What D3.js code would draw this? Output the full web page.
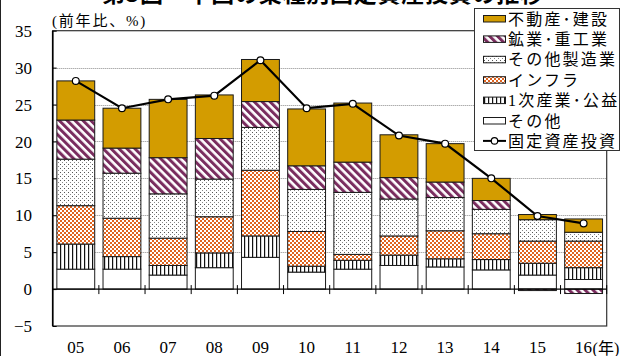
<!DOCTYPE html>
<html>
<head>
<meta charset="utf-8">
<script src="https://cdn.jsdelivr.net/npm/d3@7"></script>
<style>
  html, body { margin: 0; padding: 0; background: #fff; }
  svg { display: block; }
  .num { font-family: "Liberation Serif", "Times New Roman", serif; }
  .jp  { font-family: "Liberation Serif", "Noto Sans CJK JP", serif; }
</style>
</head>
<body>
<svg id="chart" width="631" height="356"></svg>
<script>
// Fixed-asset investment growth by sector (contribution, % y/y)
const years      = ["05","06","07","08","09","10","11","12","13","14","15","16"];
const other      = [2.7, 2.7, 1.9, 2.9, 4.3, 2.3, 2.7, 3.2, 3.0, 2.6, 1.9, 1.3];
const primary    = [3.4, 1.7, 1.3, 2.0, 2.9, 0.8, 1.2, 1.4, 1.1, 1.4, 1.6, 1.6];
const infra      = [5.2, 5.2, 3.7, 4.9, 8.9, 4.7, 0.8, 2.6, 3.8, 3.5, 3.0, 3.6];
const otherMfg   = [6.3, 6.1, 6.0, 5.1, 5.8, 5.7, 8.4, 5.0, 4.5, 3.3, 2.9, 1.2];
const mining     = [5.3, 3.4, 4.9, 5.5, 3.5, 3.2, 4.1, 2.9, 2.1, 1.2, -0.2, -0.6];
const realEstate = [5.3, 5.4, 7.9, 5.9, 5.7, 7.7, 8.0, 5.8, 5.2, 3.0, 0.7, 1.8];
const totalFAI   = [28.2, 24.5, 25.7, 26.2, 31.0, 24.5, 25.1, 20.8, 19.7, 15.0, 9.9, 8.9];
const yTicks     = [-5, 0, 5, 10, 15, 20, 25, 30, 35];

const seriesKeys   = ["other", "primary", "infra", "otherMfg", "mining", "realEstate"];
const seriesLabels = {
  realEstate: "不動産･建設",
  mining:     "鉱業･重工業",
  otherMfg:   "その他製造業",
  infra:      "インフラ",
  primary:    "1次産業･公益",
  other:      "その他"
};
const lineLabel = "固定資産投資";
const titleText = "第3図　中国の業種別固定資産投資の推移";
const yUnitLabel = "(前年比、%)";
const xUnitLabel = "(年)";

const rows = years.map((y, i) => ({
  year: y, other: other[i], primary: primary[i], infra: infra[i],
  otherMfg: otherMfg[i], mining: mining[i], realEstate: realEstate[i]
}));

const svg = d3.select("#chart");
const plot = { left: 52.7, right: 606.7, top: 30.7, bottom: 326 };

const x = d3.scaleBand().domain(years)
  .range([plot.left, plot.right]).paddingInner(0.18).paddingOuter(0.09);
const y = d3.scaleLinear().domain([-5, 35]).range([plot.bottom, plot.top]);

// ---- fill patterns ----
const defs = svg.append("defs");
const GOLD = "#D39C00", PURPLE = "#7A2D5F", ORANGE = "#E0631E";

const pStripe = defs.append("pattern").attr("id", "pat-mining")
  .attr("patternUnits", "userSpaceOnUse").attr("width", 5.6).attr("height", 5.6)
  .attr("patternTransform", "rotate(-45)");
pStripe.append("rect").attr("width", 5.6).attr("height", 5.6).attr("fill", "#fff");
pStripe.append("rect").attr("width", 3).attr("height", 5.6).attr("fill", PURPLE);

const pDots = defs.append("pattern").attr("id", "pat-otherMfg")
  .attr("patternUnits", "userSpaceOnUse").attr("width", 4).attr("height", 4);
pDots.append("rect").attr("width", 4).attr("height", 4).attr("fill", "#fff");
pDots.append("rect").attr("x", 0).attr("y", 0).attr("width", 1).attr("height", 1).attr("fill", "#555");
pDots.append("rect").attr("x", 2).attr("y", 2).attr("width", 1).attr("height", 1).attr("fill", "#888");

const pCheck = defs.append("pattern").attr("id", "pat-infra")
  .attr("patternUnits", "userSpaceOnUse").attr("width", 4).attr("height", 4);
pCheck.append("rect").attr("width", 4).attr("height", 4).attr("fill", "#fff");
pCheck.append("rect").attr("x", 0).attr("y", 0).attr("width", 2).attr("height", 2).attr("fill", ORANGE);
pCheck.append("rect").attr("x", 2).attr("y", 2).attr("width", 2).attr("height", 2).attr("fill", ORANGE);

const pVert = defs.append("pattern").attr("id", "pat-primary")
  .attr("patternUnits", "userSpaceOnUse").attr("width", 4).attr("height", 4);
pVert.append("rect").attr("width", 4).attr("height", 4).attr("fill", "#fff");
pVert.append("rect").attr("x", 0).attr("width", 1.2).attr("height", 4).attr("fill", "#111");

const fills = {
  realEstate: GOLD,
  mining: "url(#pat-mining)",
  otherMfg: "url(#pat-otherMfg)",
  infra: "url(#pat-infra)",
  primary: "url(#pat-primary)",
  other: "#fff"
};

// ---- outer figure edge ----
svg.append("line").attr("x1", 0.5).attr("x2", 0.5).attr("y1", 0).attr("y2", 356)
  .attr("stroke", "#222").attr("stroke-width", 1);

// ---- title along the top edge of the figure ----
svg.append("text").attr("class", "jp")
  .attr("x", 102).attr("y", 1.5)
  .attr("textLength", 441).attr("lengthAdjust", "spacing")
  .attr("font-size", 23).attr("font-weight", "bold")
  .style("font-family", "'Noto Sans CJK JP', sans-serif")
  .text(titleText);

// ---- gridlines ----
svg.append("g").selectAll("line")
  .data(yTicks.filter(t => t > 0 && t < 35))
  .join("line")
  .attr("x1", plot.left).attr("x2", plot.right)
  .attr("y1", d => Math.round(y(d)) + 0.5).attr("y2", d => Math.round(y(d)) + 0.5)
  .attr("stroke", "#8a8a8a").attr("stroke-width", 1).attr("stroke-dasharray", "1,1");

// ---- stacked bars ----
const stacked = d3.stack().keys(seriesKeys).offset(d3.stackOffsetDiverging)(rows);
svg.append("g").selectAll("g")
  .data(stacked)
  .join("g")
  .attr("fill", d => fills[d.key])
  .selectAll("rect")
  .data(d => d)
  .join("rect")
  .attr("x", d => x(d.data.year))
  .attr("width", x.bandwidth())
  .attr("y", d => y(Math.max(d[0], d[1])))
  .attr("height", d => Math.abs(y(d[0]) - y(d[1])))
  .attr("stroke", "#1a1a1a").attr("stroke-width", 1);

// ---- plot frame ----
svg.append("rect")
  .attr("x", plot.left).attr("y", plot.top)
  .attr("width", plot.right - plot.left).attr("height", plot.bottom - plot.top)
  .attr("fill", "none").attr("stroke", "#333").attr("stroke-width", 1.2);
svg.append("line")
  .attr("x1", plot.left).attr("x2", plot.left).attr("y1", plot.top).attr("y2", plot.bottom)
  .attr("stroke", "#000").attr("stroke-width", 1.6);

// zero line with category separators
svg.append("line")
  .attr("x1", plot.left).attr("x2", plot.right).attr("y1", y(0)).attr("y2", y(0))
  .attr("stroke", "#000").attr("stroke-width", 1.4);
const step = x.step();
svg.append("g").selectAll("line")
  .data(d3.range(1, years.length + 1))
  .join("line")
  .attr("x1", i => plot.left + i * step).attr("x2", i => plot.left + i * step)
  .attr("y1", y(0) - 4).attr("y2", y(0) + 5)
  .attr("stroke", "#000").attr("stroke-width", 1);

// ---- y axis labels and inner ticks ----
const yAxis = d3.axisLeft(y).tickValues(yTicks).tickSize(-4).tickPadding(20)
  .tickFormat(d3.format("d"));
const yG = svg.append("g").attr("transform", `translate(${plot.left},0)`).call(yAxis);
yG.select(".domain").remove();
yG.selectAll(".tick line").attr("stroke", "#000");
yG.selectAll(".tick text")
  .attr("class", "num").attr("font-size", 17).attr("fill", "#000")
  .attr("x", 32 - plot.left).attr("dy", "0.33em");

// ---- x axis labels ----
const xAxis = d3.axisBottom(x).tickSize(0).tickPadding(0);
const xG = svg.append("g").attr("transform", "translate(0,341)").call(xAxis);
xG.select(".domain").remove();
xG.selectAll(".tick text")
  .attr("class", "num").attr("font-size", 17).attr("fill", "#000").attr("dy", "0.71em");
const lastYear = years[years.length - 1];
svg.append("text").attr("class", "jp")
  .attr("x", x(lastYear) + x.bandwidth() / 2 + 9).attr("y", 354)
  .attr("font-size", 16).text(xUnitLabel);

// unit label
svg.append("text").attr("class", "jp")
  .attr("x", 52).attr("y", 25.5)
  .attr("font-size", 15).attr("letter-spacing", "1.8px")
  .text(yUnitLabel);

// ---- total fixed-asset investment line ----
const cx = d => x(d) + x.bandwidth() / 2;
const linePts = years.map((yr, i) => [cx(yr), y(totalFAI[i])]);
svg.append("path")
  .attr("d", d3.line()(linePts))
  .attr("fill", "none").attr("stroke", "#000").attr("stroke-width", 2.2);
svg.append("g").selectAll("circle")
  .data(linePts)
  .join("circle")
  .attr("cx", d => d[0]).attr("cy", d => d[1]).attr("r", 3.4)
  .attr("fill", "#fff").attr("stroke", "#000").attr("stroke-width", 1.2);

// ---- legend ----
const legend = svg.append("g");
legend.append("rect")
  .attr("x", 474.5).attr("y", 8.5).attr("width", 145).attr("height", 142)
  .attr("fill", "#fff").attr("stroke", "#333").attr("stroke-width", 1);
const legendKeys = ["realEstate", "mining", "otherMfg", "infra", "primary", "other"];
const rowY = i => 18.5 + i * 20.4;
legendKeys.forEach((k, i) => {
  legend.append("rect")
    .attr("x", 483.5).attr("y", rowY(i) - 3).attr("width", 22).attr("height", 6.5)
    .attr("fill", fills[k]).attr("stroke", "#1a1a1a").attr("stroke-width", 1);
  legend.append("text").attr("class", "jp")
    .attr("x", 508).attr("y", rowY(i) + 6)
    .attr("font-size", 16).attr("letter-spacing", "2.2px")
    .text(seriesLabels[k]);
});
const ly = rowY(legendKeys.length);
legend.append("line")
  .attr("x1", 483).attr("x2", 506).attr("y1", ly).attr("y2", ly)
  .attr("stroke", "#000").attr("stroke-width", 2);
legend.append("circle")
  .attr("cx", 494.5).attr("cy", ly).attr("r", 3.2)
  .attr("fill", "#fff").attr("stroke", "#000").attr("stroke-width", 1.2);
legend.append("text").attr("class", "jp")
  .attr("x", 508).attr("y", ly + 6)
  .attr("font-size", 16).attr("letter-spacing", "2.2px")
  .text(lineLabel);
</script>
</body>
</html>
